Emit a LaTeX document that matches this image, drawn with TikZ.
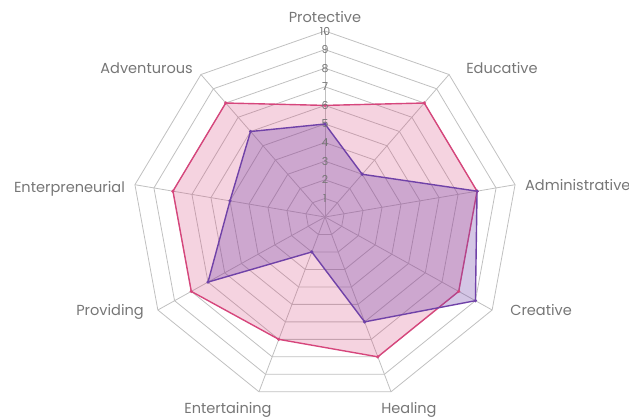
\documentclass[tikz,border=0pt]{standalone}
\usepackage{fontspec}
\setmainfont{Poppins}
\usetikzlibrary{calc}

\definecolor{gridgray}{RGB}{192,192,192}
\definecolor{labelgray}{RGB}{118,118,118}
\definecolor{rosered}{RGB}{214,70,124}
\definecolor{violet}{RGB}{112,66,168}

\tikzset{
  gridline/.style={gridgray, line width=0.8bp},
  axislabel/.style={labelgray, inner sep=0pt, font=\fontsize{14.6}{17}\selectfont},
  levellabel/.style={labelgray, inner sep=0pt, font=\fontsize{11}{12}\selectfont},
  rosearea/.style={rosered, line width=1.4bp, line join=round, fill=rosered, fill opacity=0.24},
  violetarea/.style={violet, line width=1.4bp, line join=round, fill=violet, fill opacity=0.30},
  dot/.style={fill=#1, draw=none},
}

\begin{document}
\begin{tikzpicture}[x=19.3bp, y=18.6bp]
\coordinate (O) at (0,0);
\useasboundingbox ([shift={(-325bp,-201bp)}]O) rectangle ([shift={(304bp,217bp)}]O);

% rings and spokes
\foreach \r in {1,...,10}
  \draw[gridline] (90:\r) \foreach \a in {50,10,...,-230} {-- (\a:\r)} -- cycle;
\foreach \a in {90,50,...,-230}
  \draw[gridline] (O) -- (\a:10);

% first series
\draw[rosearea] (90:6) -- (50:8) -- (10:8) -- (-30:8) -- (-70:8) -- (-110:7) -- (-150:8) -- (170:8) -- (130:8) -- cycle;
% second series
\draw[violetarea] (90:5) -- (50:3) -- (10:8) -- (-30:9) -- (-70:6) -- (-110:2) -- (-150:7) -- (170:5) -- (130:6) -- cycle;

\foreach \a/\v in {90/6,50/8,10/8,-30/8,-70/8,-110/7,-150/8,170/8,130/8}
  \fill[dot=rosered] (\a:\v) circle (1.8bp);
\foreach \a/\v in {90/5,50/3,10/8,-30/9,-70/6,-110/2,-150/7,170/5,130/6}
  \fill[dot=violet] (\a:\v) circle (1.8bp);

% level numbers
\foreach \r in {1,...,10}
  \node[levellabel] (lvl\r) at (90:\r) {\r};

% axis names
\node[axislabel, anchor=base] (protective) at (0,10.48) {Protective};
\node[axislabel, anchor=base west] (educative) at (7.31,7.74) {Educative};
\node[axislabel, anchor=base west] (administrative) at (10.36,1.40) {Administrative};
\node[axislabel, anchor=base west] (creative) at (9.59,-5.27) {Creative};
\node[axislabel, anchor=base] (healing) at (4.35,-10.56) {Healing};
\node[axislabel, anchor=base] (entertaining) at (-5.03,-10.56) {Entertaining};
\node[axislabel, anchor=base east] (providing) at (-9.38,-5.27) {Providing};
\node[axislabel, anchor=base east] (enterpreneurial) at (-10.36,1.34) {Enterpreneurial};
\node[axislabel, anchor=base east] (adventurous) at (-6.84,7.74) {Adventurous};

\end{tikzpicture}
\end{document}
